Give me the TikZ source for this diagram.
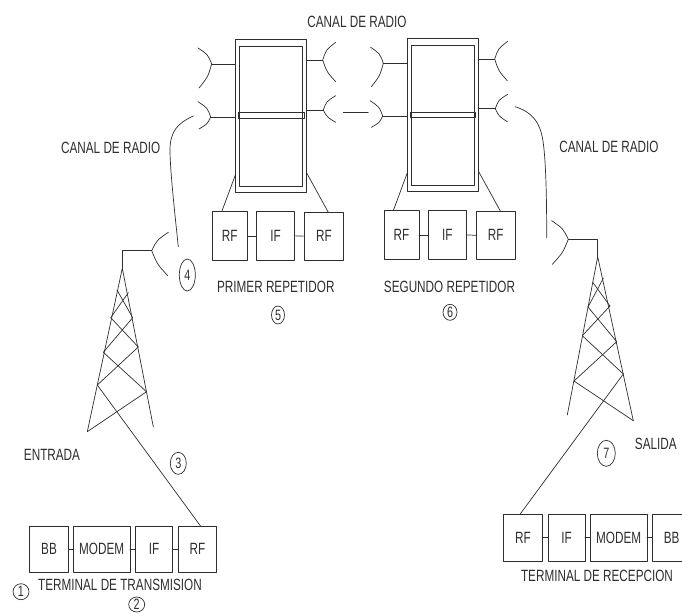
\documentclass[tikz,border=0pt]{standalone}
\usepackage{fontspec}
\setmainfont[FakeStretch=0.72]{Liberation Sans}
\usetikzlibrary{shapes.geometric,calc}
\definecolor{ink}{gray}{0.18}
\tikzset{
  ln/.style={draw=ink,line width=0.7pt,line cap=round,line join=round},
  bx/.style={ln,rectangle,inner sep=0pt,outer sep=0pt,text=ink,font=\fontsize{16.3}{16}\selectfont},
  lbl/.style={inner sep=0pt,text=ink,font=\fontsize{16.3}{16}\selectfont},
  num/.style={ln,ellipse,inner sep=0pt,outer sep=0pt,text=ink,font=\fontsize{15}{15}\selectfont},
}
\newcommand{\rbx}[6]{\node[bx,minimum width={(#4-#2)*1pt},minimum height={(#5-#3)*1pt}] (#1) at ({(#2+#4)/2},{(#3+#5)/2}) {#6};}
\newcommand{\nm}[6]{\node[num,minimum width=#4pt,minimum height=#5pt] (#1) at (#2,#3) {#6};}
% \horn{name}{vertex}{sign}{upper end}{lower end}
\newcommand{\horn}[5]{%
  \coordinate (#1) at (#2);
  \draw[ln] (#4) .. controls ($(#4)!.5!(#1)+(#3*3,-1.5)$) .. (#1) .. controls ($(#5)!.5!(#1)+(#3*2.5,1)$) .. (#5);}
\begin{document}
\begin{tikzpicture}[x=1pt,y=-1pt]
\useasboundingbox (0,0) rectangle (682,613);
\clip (0,0) rectangle (682,613);
% repeaters
\rbx{repA}{235.7}{39}{306.3}{192}{}
\rbx{repAin}{239}{46}{302.7}{186}{}
\rbx{repAband}{238.7}{112.7}{304}{118.3}{}
\rbx{repB}{407.3}{38.3}{478}{191}{}
\rbx{repBin}{411.3}{45.3}{474.3}{185}{}
\rbx{repBband}{410.3}{112}{475.7}{117.3}{}
% horns on repeaters
\horn{hA1}{211.7,64}{1}{198,48}{199,88}
\horn{hA2}{210.7,117}{1}{198,101.7}{199,129}
\horn{hA3}{322.7,60}{-1}{335.7,42.3}{335.7,81.7}
\horn{hA4}{323.3,110}{-1}{335.7,95.7}{335.7,122.3}
\horn{hB1}{383.3,63.3}{1}{370.7,47.3}{371.3,86.7}
\horn{hB2}{382.7,116}{1}{370,100.7}{371.3,127.3}
\horn{hB3}{494.7,59}{-1}{507.7,41.3}{507.3,80.7}
\horn{hB4}{495.3,108.7}{-1}{507.7,94.3}{507.3,121.7}
\draw[ln] (hA1) -- (hA1 -| repA.west);
\draw[ln] (hA2) -- (hA2 -| repA.west);
\draw[ln] (hA3) -- (hA3 -| repA.east);
\draw[ln] (hA4) -- (hA4 -| repA.east);
\draw[ln] (hB1) -- (hB1 -| repB.west);
\draw[ln] (hB2) -- (hB2 -| repB.west);
\draw[ln] (hB3) -- (hB3 -| repB.east);
\draw[ln] (hB4) -- (hB4 -| repB.east);
% radio link between repeaters
\coordinate (gapL) at (343.3,112.7);
\coordinate (gapR) at (368.3,112.7);
\draw[ln] (gapL) -- (gapR);
% repeater equipment
\rbx{arfL}{212.3}{211.7}{247.3}{260}{RF}
\rbx{aif}{256.7}{211.7}{294.3}{260}{IF}
\rbx{arfR}{304.3}{212.3}{343.7}{260}{RF}
\rbx{brfL}{384}{210.7}{419}{259}{RF}
\rbx{bif}{428.7}{210.7}{466}{259}{IF}
\rbx{brfR}{476.3}{211.7}{515.3}{259}{RF}
\draw[ln] (arfL.east) -- (aif.west);
\draw[ln] (aif.east) -- (arfR.west);
\draw[ln] (brfL.east) -- (bif.west);
\draw[ln] (bif.east) -- (brfR.west);
\coordinate (a1) at (235.7,174);
\coordinate (a2) at (221.7,211.7);
\coordinate (a3) at (306.3,172.3);
\coordinate (a4) at (328.3,212.3);
\coordinate (b1) at (407.3,172.7);
\coordinate (b2) at (393.3,210.7);
\coordinate (b3) at (478.3,171);
\coordinate (b4) at (500.7,211.7);
\draw[ln] (a1) -- (a2);
\draw[ln] (a3) -- (a4);
\draw[ln] (b1) -- (b2);
\draw[ln] (b3) -- (b4);
% left tower
\horn{hT}{151.7,250.7}{-1}{168.3,232.3}{167.7,275.7}
\coordinate (tA) at (122.3,268.3);
\draw[ln] (hT) -- (122.3,250.7) -- (tA);
\draw[ln] (87.3,431.7) -- (tA) -- (153.3,426.7);
\draw[ln] (117,290) -- (132.7,317.7);
\draw[ln] (128.3,292.7) -- (110.7,317.7) -- (138.3,347) -- (97.3,385);
\draw[ln] (132.7,317.7) -- (103.3,352.3) -- (146.5,391.7) -- (87.3,431.7);
% right tower
\horn{hU}{568.3,239.3}{1}{551.7,220.7}{552.3,264.3}
\coordinate (uA) at (597.7,256.7);
\draw[ln] (hU) -- (597.7,239.3) -- (uA);
\draw[ln] (567.3,415) -- (uA) -- (633.3,420.7);
\draw[ln] (592.7,282.3) -- (610,306) -- (582.3,335.7) -- (623.3,374);
\draw[ln] (603.3,278.3) -- (588,307) -- (616.7,341.7) -- (574,381) -- (633.3,420.7);
% terminals
\rbx{tbb}{29.3}{526}{68.7}{572.3}{BB}
\rbx{tmod}{73.3}{526}{130}{572.3}{MODEM}
\rbx{tif}{135.7}{526}{172.3}{572.3}{IF}
\rbx{trf}{178.3}{526}{216.7}{572.3}{RF}
\draw[ln] (tbb.east) -- (tmod.west);
\draw[ln] (tmod.east) -- (tif.west);
\draw[ln] (tif.east) -- (trf.west);
\rbx{rrf}{503.3}{514.3}{542.7}{561}{RF}
\rbx{rif}{548.3}{514.3}{585}{561}{IF}
\rbx{rmod}{590.3}{514.3}{647}{561}{MODEM}
\rbx{rbb}{652.3}{514.3}{691}{561}{BB}
\draw[ln] (rrf.east) -- (rif.west);
\draw[ln] (rif.east) -- (rmod.west);
\draw[ln] (rmod.east) -- (rbb.west);
% links towers to terminals
\coordinate (tLow) at (97.3,385);
\coordinate (tRf) at (200.5,526);
\draw[ln] (tLow) -- (tRf);
\coordinate (uLow) at (623.3,374);
\coordinate (uRf) at (520,514.3);
\draw[ln] (uLow) -- (uRf);
% radio paths
\coordinate (cL1) at (193.3,116);
\coordinate (cL2) at (178.3,246.7);
\draw[ln] (cL1) .. controls (178,123) and (170,131) .. (170,150) .. controls (170,170) and (175,215) .. (cL2);
\coordinate (cR1) at (515,106.7);
\coordinate (cR2) at (546.7,237.7);
\draw[ln] (cR1) .. controls (532,112) and (541,122) .. (543.5,145) .. controls (546,165) and (546.7,200) .. (cR2);
% labels
\node[lbl] (l1) at (357,21.7) {CANAL DE RADIO};
\node[lbl] (l2) at (110.7,148) {CANAL DE RADIO};
\node[lbl] (l3) at (609,147) {CANAL DE RADIO};
\node[lbl] (l4) at (275.8,287.3) {PRIMER REPETIDOR};
\node[lbl] (l5) at (449.5,287) {SEGUNDO REPETIDOR};
\node[lbl] (l6) at (52,455) {ENTRADA};
\node[lbl] (l7) at (655.8,444) {SALIDA};
\node[lbl] (l8) at (120,585) {TERMINAL DE TRANSMISION};
\node[lbl] (l9) at (597,576) {TERMINAL DE RECEPCION};
\nm{n1}{21}{591.7}{16}{16}{1}
\nm{n2}{136.7}{604.5}{16}{15}{2}
\nm{n3}{178.3}{463.3}{16}{22}{3}
\nm{n4}{187.3}{275}{16}{32}{4}
\nm{n5}{278}{315}{13}{18}{5}
\nm{n6}{450}{312.3}{14}{16}{6}
\nm{n7}{606.3}{453.3}{18}{26}{7}
\end{tikzpicture}
\end{document}
